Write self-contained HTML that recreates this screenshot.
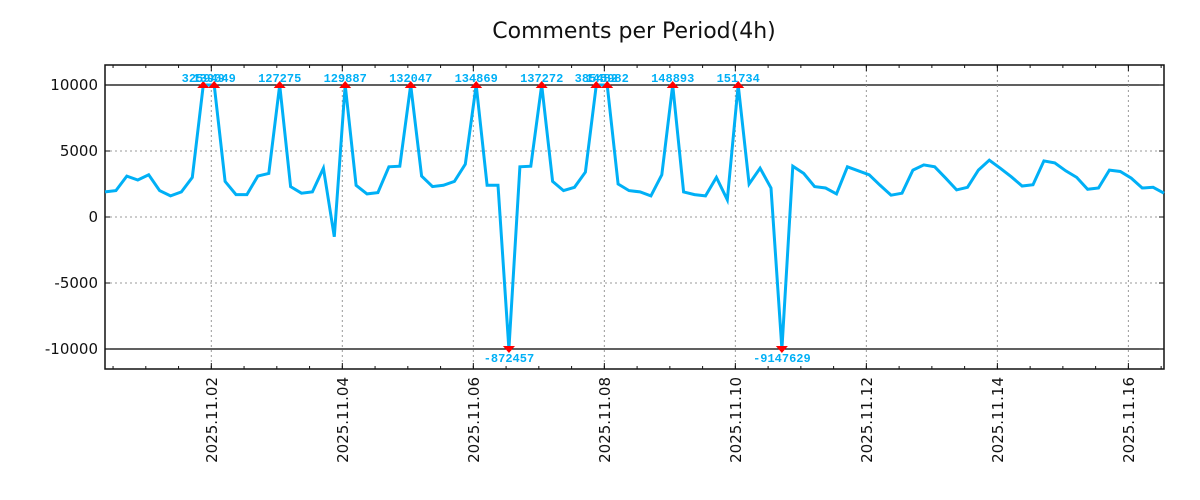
<!DOCTYPE html>
<html><head><meta charset="utf-8">
<style>
html,body{margin:0;padding:0;background:#fff;}
svg{display:block;font-family:"DejaVu Sans","Liberation Sans",sans-serif;}
</style></head>
<body>
<svg id="chart" width="1200" height="500" viewBox="0 0 1200 500" xmlns="http://www.w3.org/2000/svg">
<text x="634" y="38" text-anchor="middle" font-size="22" fill="#111">Comments per Period(4h)</text>
<g id="grid"></g>
<g id="axes"></g>
<g id="series"></g>
<g id="markers"></g>
</svg>
<script>
const startHour = -38.95;      // hours relative to 2025-11-02 00:00
const periodHours = 4;
const values = [
1900,2000,3100,2800,3200,2000,1600,1900,3000,325949,139049,2700,1700,1700,3100,3300,127275,2300,1800,1900,3700,-1500,129887,2400,1750,1850,3800,3850,132047,3100,2300,2400,2700,4000,
134869,2400,2400,-872457,3800,3850,137272,2700,2000,2250,3400,385482,145982,2500,2000,1900,1600,3200,148893,1900,1700,1600,3000,1300,151734,2500,3700,2200,-9147629,3850,
3300,2300,2200,1750,3800,3500,3200,2400,1650,1800,3550,3950,3800,2950,2050,2250,3550,4300,3700,3050,2350,2450,4250,4100,3500,3000,2100,2200,3550,3450,2950,2200,2250,1800];
const yTicks = [10000,5000,0,-5000,-10000];
const yTickLabels = ["10000","5000","0","-5000","-10000"];
const xTickDays = [0,2,4,6,8,10,12,14];
const xTickLabels = ["2025.11.02","2025.11.04","2025.11.06","2025.11.08","2025.11.10","2025.11.12","2025.11.14","2025.11.16"];
const clipLimit = 10000;

const L=105,R=1164,T=65,B=369;
const xMin=startHour, xMax=startHour+(values.length-1)*periodHours;
const xs=h=>L+(h-xMin)/(xMax-xMin)*(R-L);
const ys=v=>217-v*0.0132;
const NS="http://www.w3.org/2000/svg";
function mk(tag,attrs,parent,txt){const e=document.createElementNS(NS,tag);for(const k in attrs)e.setAttribute(k,attrs[k]);if(txt!==undefined)e.textContent=txt;parent.appendChild(e);return e;}
const grid=document.getElementById('grid'),axes=document.getElementById('axes'),series=document.getElementById('series'),markers=document.getElementById('markers');

yTicks.forEach((v,i)=>{
  const y=ys(v);
  let ln;
  if(Math.abs(v)===clipLimit){ln=mk('line',{x1:L,x2:R,y1:y,y2:y,stroke:'#000','stroke-width':1.2},grid);}
  else{ln=mk('line',{x1:L,x2:R,y1:y,y2:y,stroke:'#999','stroke-width':1,'stroke-dasharray':'2,3'},grid);}
  
  
  const t=mk('text',{x:98,y:y+5,'text-anchor':'end','font-size':15,fill:'#111'},axes,yTickLabels[i]);
  
  
  mk('line',{x1:R-5,x2:R,y1:y,y2:y,stroke:'#111'},axes);
  mk('line',{x1:L,x2:L+5,y1:y,y2:y,stroke:'#111'},axes);
});
for(let h=Math.ceil(xMin/12)*12;h<=xMax;h+=12){
  const x=xs(h);
  mk('line',{x1:x,x2:x,y1:B,y2:B-3,stroke:'#111'},axes);
  mk('line',{x1:x,x2:x,y1:T,y2:T+3,stroke:'#111'},axes);
}
xTickDays.forEach((d,i)=>{
  const x=xs(d*24);
  const g=mk('line',{x1:x,x2:x,y1:T,y2:B,stroke:'#999','stroke-dasharray':'2,3'},grid);
  
  
  mk('line',{x1:x,x2:x,y1:B,y2:B-6,stroke:'#111'},axes);
  mk('line',{x1:x,x2:x,y1:T,y2:T+6,stroke:'#111'},axes);
  const t=mk('text',{x:0,y:0,'text-anchor':'end','font-size':15,fill:'#111',transform:`translate(${x+5.5},377) rotate(-90)`},axes,xTickLabels[i]);
  
  
});
const frame=mk('rect',{x:L,y:T,width:R-L,height:B-T,fill:'none',stroke:'#111','stroke-width':1.5},axes);



const pts=values.map((v,i)=>{const c=Math.max(-clipLimit,Math.min(clipLimit,v));return [xs(xMin+i*periodHours),ys(c)];});
const line=mk('polyline',{points:pts.map(p=>p[0].toFixed(1)+','+p[1].toFixed(1)).join(' '),fill:'none',stroke:'#00b0f6','stroke-width':3,'stroke-linejoin':'miter'},series);



values.forEach((v,i)=>{
  if(Math.abs(v)<=clipLimit)return;
  const [x,y]=pts[i];
  let m,t;
  if(v>0){
    m=mk('path',{d:`M${x-6},${y+3}L${x},${y-4}L${x+6},${y+3}Z`,fill:'#f00'},markers);
    t=mk('text',{x:x,y:y-3,'text-anchor':'middle','font-size':12,'font-weight':'bold','font-family':'"Liberation Mono",monospace',fill:'#00b0f6'},markers,String(v));
  }else{
    m=mk('path',{d:`M${x-6},${y-3}L${x},${y+4}L${x+6},${y-3}Z`,fill:'#f00'},markers);
    t=mk('text',{x:x,y:y+13,'text-anchor':'middle','font-size':12,'font-weight':'bold','font-family':'"Liberation Mono",monospace',fill:'#00b0f6'},markers,String(v));
  }
  
  
  
  
});
</script>
</body></html>
